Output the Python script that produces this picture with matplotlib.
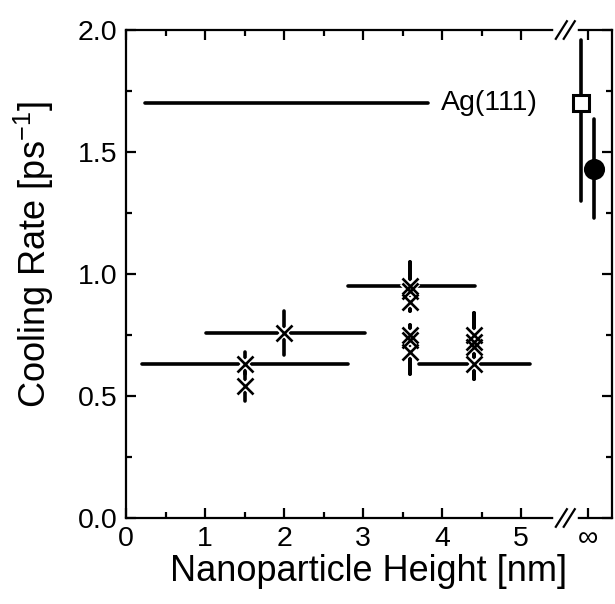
import numpy as np
import matplotlib.pyplot as plt
from matplotlib.transforms import blended_transform_factory

plt.rcParams['font.family'] = ['Liberation Sans', 'DejaVu Sans']
plt.rcParams['mathtext.default'] = 'regular'

# horizontal bars: height range of the particle ensemble at a given rate
bar_y = [1.70, 0.63, 0.76, 0.95, 0.63]
bar_x0 = [0.24, 0.20, 1.01, 2.81, 3.71]
bar_x1 = [3.82, 2.81, 3.03, 4.42, 5.11]

# individual measurements (x markers) with vertical error bars
pt_x = [1.5, 1.5, 2.0, 3.6, 3.6, 3.6, 3.6, 3.6, 3.6, 4.4, 4.4, 4.4, 4.4]
pt_y = [0.63, 0.54, 0.76, 0.95, 0.93, 0.885, 0.75, 0.73, 0.68, 0.75, 0.72, 0.70, 0.63]
pt_lo = [0.59, 0.48, 0.67, 0.85, 0.85, 0.85, 0.59, 0.59, 0.59, 0.57, 0.57, 0.57, 0.57]
pt_hi = [0.68, 0.60, 0.85, 1.05, 1.05, 1.05, 0.79, 0.79, 0.79, 0.84, 0.84, 0.84, 0.84]

# bulk Ag(111) values plotted at "infinity"
bulk_y = [1.70, 1.43]
bulk_lo = [1.30, 1.23]
bulk_hi = [1.96, 1.635]
bulk_fill = ['white', 'black']
bulk_marker = ['s', 'o']

INF = 5.85
bulk_dx = [-0.095, 0.075]

fig = plt.figure(figsize=(6.15, 6.04), dpi=100)
ax = fig.add_axes([0.205, 0.1424, 0.79, 0.8079])

lw = 2.6
for y, a, b in zip(bar_y, bar_x0, bar_x1):
    ax.plot([a, b], [y, y], color='black', lw=lw, solid_capstyle='round', zorder=2)

for x, lo, hi in zip(pt_x, pt_lo, pt_hi):
    ax.plot([x, x], [lo, hi], color='black', lw=lw, solid_capstyle='round', zorder=2)
ax.plot(pt_x, pt_y, ls='none', marker='x', ms=11, mew=4.5, color='white', zorder=3)
ax.plot(pt_x, pt_y, ls='none', marker='x', ms=11, mew=1.9, color='black', zorder=4)

for dx, y, lo, hi, fc, m in zip(bulk_dx, bulk_y, bulk_lo, bulk_hi, bulk_fill, bulk_marker):
    ax.plot([INF + dx, INF + dx], [lo, hi], color='black', lw=lw, solid_capstyle='round', zorder=2)
    ax.plot([INF + dx], [y], ls='none', marker=m, ms=11 if m == 's' else 13,
            mfc=fc, mec='black', mew=2.2, zorder=4)

ax.text(3.98, 1.70, 'Ag(111)', fontsize=20.5, va='center', ha='left')

ax.set_xlim(0, 6.15)
ax.set_ylim(0, 2.0)
ax.set_xticks([0, 1, 2, 3, 4, 5, INF])
ax.set_xticklabels(['0', '1', '2', '3', '4', '5', '\u221e'])
ax.set_xticks([0.5, 1.5, 2.5, 3.5, 4.5], minor=True)
ax.set_yticks(np.arange(0, 2.01, 0.5))
ax.set_yticklabels(['0.0', '0.5', '1.0', '1.5', '2.0'])
ax.set_yticks(np.arange(0.25, 2.0, 0.5), minor=True)
ax.tick_params(which='both', direction='in', top=True, right=True, width=1.6,
               labelsize=20.5, pad=6)
ax.tick_params(which='major', length=7)
ax.tick_params(which='minor', length=4)
for s in ax.spines.values():
    s.set_linewidth(1.6)

# axis break marks on top and bottom spines
tr = blended_transform_factory(ax.transData, ax.transAxes)
bx = 5.56
for yy in (0, 1):
    ax.plot([bx - 0.12, bx + 0.12], [yy, yy], transform=tr, color='white', lw=4,
            clip_on=False, zorder=5)
    for off in (-0.05, 0.05):
        ax.plot([bx + off - 0.07, bx + off + 0.07], [yy - 0.018, yy + 0.018], transform=tr,
                color='black', lw=1.6, clip_on=False, zorder=6)

ax.set_xlabel('Nanoparticle Height [nm]', fontsize=26, labelpad=1)
ax.set_ylabel('Cooling Rate [ps$^{-1}$]', fontsize=26, labelpad=6)
ax.yaxis.set_label_coords(-0.145, 0.54)

fig.savefig('out.png', dpi=100)
